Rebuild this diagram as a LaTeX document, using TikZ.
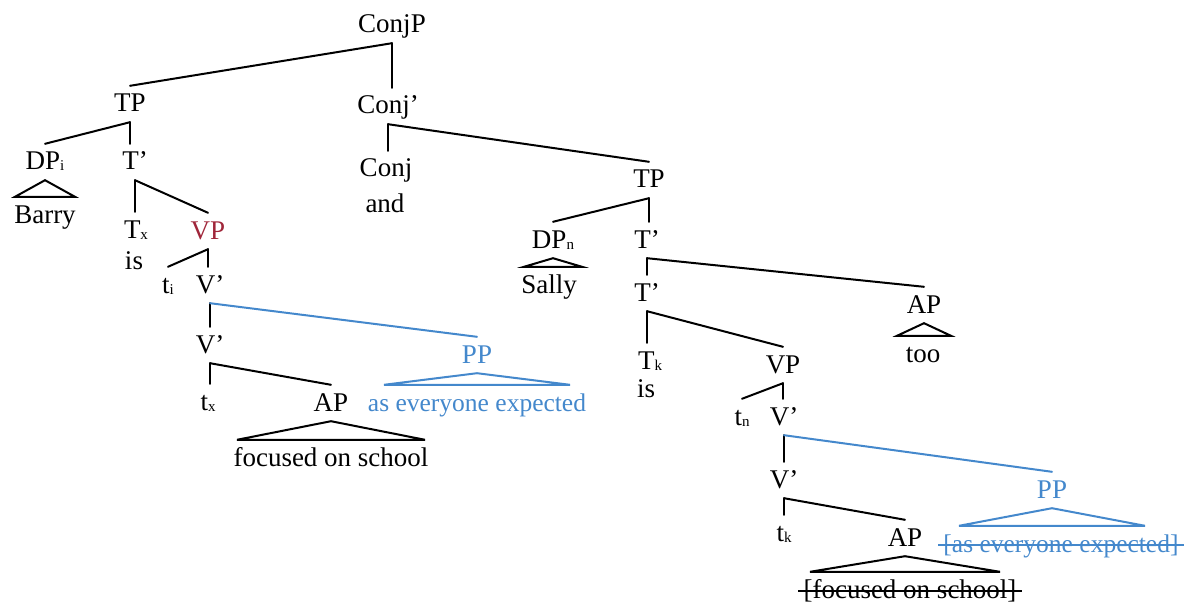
\documentclass[tikz,border=0pt]{standalone}
\usepackage{fontspec}
\setmainfont{Liberation Serif}
\usetikzlibrary{calc}
\definecolor{adjblue}{RGB}{68,136,204}
\definecolor{headred}{RGB}{160,38,58}
% small lowered index after a category label
\newcommand\sbs[1]{\raisebox{-1pt}{\fontsize{15}{15}\selectfont #1}}
% roof (triangle) from a phrase node over its unanalysed string
\newcommand\roof[4][]{%
  \draw[branch,#1] ($(#2.south |- #3.north)+(-#4,0)$) -- (#2.south)
    -- ($(#2.south |- #3.north)+(#4,0)$) -- cycle;}
% branch to a child placed straight below the parent
\newcommand\down[3][]{\draw[branch,#1] (#2.south) -- (#2.south |- #3.north);}
% branch to a child placed to one side
\newcommand\side[3][]{\draw[branch,#1] (#2.south) -- (#3.north);}
% struck-through string
\newcommand\strike[2][black]{\draw[#1,line width=1.5pt]
  ($(#2.base west)+(-4,-7)$) -- ($(#2.base east)+(4,-7)$);}
\begin{document}
\begin{tikzpicture}[x=1pt,y=-1pt,
  font=\fontsize{27}{32}\selectfont,
  lab/.style={anchor=base,inner xsep=1pt,inner ysep=4pt,
    text height=22pt,text depth=6pt},
  small/.style={font=\fontsize{25.5}{30}\selectfont},
  branch/.style={line width=2pt,line cap=round},
  blueline/.style={draw=adjblue}]
\useasboundingbox (0,0) rectangle (1184,607);

% ---- top of the tree
\node[lab] (conjP)   at (392,33)  {ConjP};
\node[lab] (tpL)     at (130,112) {TP};
\node[lab] (conjBar) at (388,114) {Conj’};
\node[lab] (conj)    at (386,177) {Conj};
\node[lab] (andN)    at (385,212) {and};

% ---- first conjunct
\node[lab] (dpI)    at (45,170)  {DP\sbs{i}};
\node[lab] (barry)  at (45,223)  {Barry};
\node[lab] (tBarL)  at (135,170) {T’};
\node[lab] (tx)     at (136,238) {T\sbs{x}};
\node[lab] (isL)    at (134,269) {is};
\node[lab,text=headred] (vpL) at (208,239) {VP};
\node[lab] (tI)     at (168,293) {t\sbs{i}};
\node[lab] (vBarA)  at (210,293) {V’};
\node[lab] (vBarB)  at (210,353) {V’};
\node[lab,text=adjblue] (ppL) at (477,363) {PP};
\node[lab,small,text=adjblue] (aewL) at (477,411) {as everyone expected};
\node[lab] (txx)    at (208,410) {t\sbs{x}};
\node[lab] (apL)    at (331,411) {AP};
\node[lab] (fosL)   at (331,466) {focused on school};

% ---- second conjunct
\node[lab] (tpR)    at (649,188) {TP};
\node[lab] (dpN)    at (553,248) {DP\sbs{n}};
\node[lab] (sally)  at (549,293) {Sally};
\node[lab] (tBarR1) at (647,248) {T’};
\node[lab] (tBarR2) at (647,301) {T’};
\node[lab] (apToo)  at (924,313) {AP};
\node[lab] (too)    at (923,362) {too};
\node[lab] (tk)     at (650,369) {T\sbs{k}};
\node[lab] (isR)    at (646,397) {is};
\node[lab] (vpR)    at (783,373) {VP};
\node[lab] (tn)     at (742,425) {t\sbs{n}};
\node[lab] (vBarR1) at (784,425) {V’};
\node[lab] (vBarR2) at (784,488) {V’};
\node[lab,text=adjblue] (ppR) at (1052,498) {PP};
\node[lab,small,text=adjblue] (aewR) at (1061,552) {[as everyone expected]};
\node[lab] (tkk)    at (784,541) {t\sbs{k}};
\node[lab] (apR)    at (905,546) {AP};
\node[lab] (fosR)   at (910,598) {[focused on school]};

% ---- branches
\side{conjP}{tpL}   \down{conjP}{conjBar}
\side{tpL}{dpI}     \down{tpL}{tBarL}
\roof{dpI}{barry}{30}
\down{tBarL}{tx}    \side{tBarL}{vpL}
\side{vpL}{tI}      \down{vpL}{vBarA}
\down{vBarA}{vBarB} \side[blueline]{vBarA}{ppL}
\roof[blueline]{ppL}{aewL}{93}
\down{vBarB}{txx}   \side{vBarB}{apL}
\roof{apL}{fosL}{94}

\down{conjBar}{conj} \side{conjBar}{tpR}
\side{tpR}{dpN}      \down{tpR}{tBarR1}
\roof{dpN}{sally}{29}
\down{tBarR1}{tBarR2} \side{tBarR1}{apToo}
\roof{apToo}{too}{27}
\down{tBarR2}{tk}    \side{tBarR2}{vpR}
\side{vpR}{tn}       \down{vpR}{vBarR1}
\down{vBarR1}{vBarR2} \side[blueline]{vBarR1}{ppR}
\roof[blueline]{ppR}{aewR}{93}
\down{vBarR2}{tkk}   \side{vBarR2}{apR}
\roof{apR}{fosR}{95}

% ---- deleted material
\strike[adjblue]{aewR}
\strike{fosR}
\end{tikzpicture}
\end{document}
